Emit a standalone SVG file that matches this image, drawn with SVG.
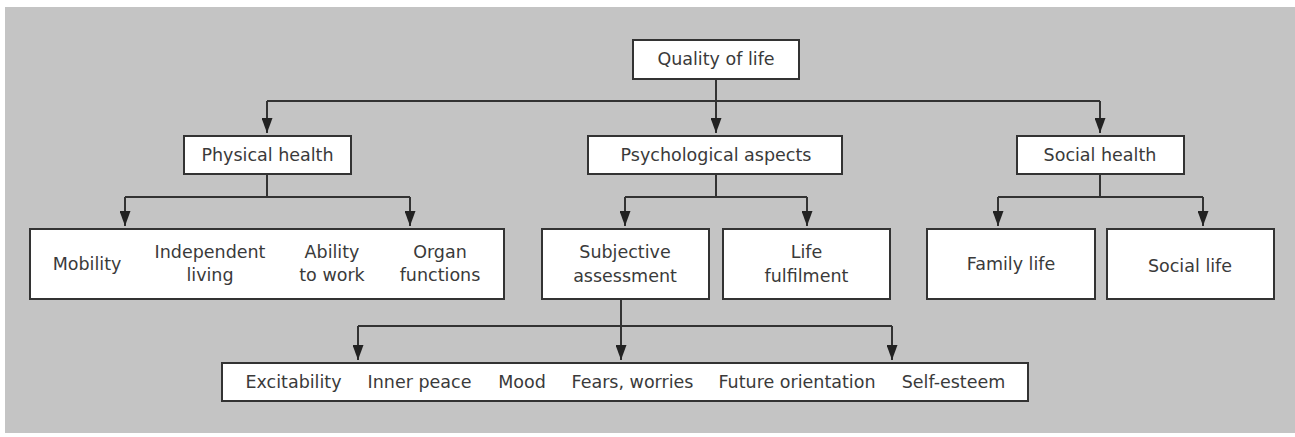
<svg xmlns="http://www.w3.org/2000/svg" width="1295" height="437" viewBox="0 0 1295 437">
<defs>
<style>
.box{fill:#fff;stroke:#333;stroke-width:2}
.t{font-family:"DejaVu Sans",sans-serif;font-size:17.5px;fill:#3a3a3a;text-anchor:middle}
.c{fill:none;stroke:#333;stroke-width:2}
</style>
<marker id="ah" viewBox="0 0 15 11" refX="15" refY="5.5" markerWidth="15" markerHeight="11" markerUnits="userSpaceOnUse" orient="auto">
<path d="M0,0 L15,5.5 L0,11 Z" fill="#222"/>
</marker>
</defs>
<rect x="0" y="0" width="1295" height="437" fill="#fff"/>
<rect x="5" y="7" width="1290" height="426" fill="#c4c4c4"/>
<g id="connectors">
<path class="c" d="M716,79 V101"/>
<path class="c" d="M267,101 H1100"/>
<path class="c" d="M267,101 V133" marker-end="url(#ah)"/>
<path class="c" d="M716,101 V133" marker-end="url(#ah)"/>
<path class="c" d="M1100,101 V133" marker-end="url(#ah)"/>
<path class="c" d="M267,174 V197 M125,197 H410"/>
<path class="c" d="M125,197 V226" marker-end="url(#ah)"/>
<path class="c" d="M410,197 V226" marker-end="url(#ah)"/>
<path class="c" d="M716,174 V197 M625,197 H807"/>
<path class="c" d="M625,197 V226" marker-end="url(#ah)"/>
<path class="c" d="M807,197 V226" marker-end="url(#ah)"/>
<path class="c" d="M1100,174 V197 M998,197 H1203"/>
<path class="c" d="M998,197 V226" marker-end="url(#ah)"/>
<path class="c" d="M1203,197 V226" marker-end="url(#ah)"/>
<path class="c" d="M621,299 V326 M358,326 H892"/>
<path class="c" d="M358,326 V360" marker-end="url(#ah)"/>
<path class="c" d="M621,326 V360" marker-end="url(#ah)"/>
<path class="c" d="M892,326 V360" marker-end="url(#ah)"/>
</g>
<g id="quality">
<rect class="box" x="633" y="40" width="166" height="39"/>
<text class="t" x="716" y="65">Quality of life</text>
</g>
<g id="physical">
<rect class="box" x="184" y="136" width="167" height="38"/>
<text class="t" x="267.5" y="161">Physical health</text>
</g>
<g id="psychological">
<rect class="box" x="588" y="136" width="254" height="38"/>
<text class="t" x="716" y="161">Psychological aspects</text>
</g>
<g id="social">
<rect class="box" x="1017" y="136" width="167" height="38"/>
<text class="t" x="1100" y="161">Social health</text>
</g>
<g id="physical-items">
<rect class="box" x="30" y="229" width="474" height="70"/>
<text class="t" x="87" y="270">Mobility</text>
<text class="t" x="210" y="258">Independent</text>
<text class="t" x="210" y="281">living</text>
<text class="t" x="332" y="258">Ability</text>
<text class="t" x="332" y="281">to work</text>
<text class="t" x="440" y="258">Organ</text>
<text class="t" x="440" y="281">functions</text>
</g>
<g id="subjective">
<rect class="box" x="542" y="229" width="167" height="70"/>
<text class="t" x="625" y="258">Subjective</text>
<text class="t" x="625" y="282">assessment</text>
</g>
<g id="life-fulfilment">
<rect class="box" x="723" y="229" width="167" height="70"/>
<text class="t" x="806.5" y="258">Life</text>
<text class="t" x="806.5" y="282">fulfilment</text>
</g>
<g id="family-life">
<rect class="box" x="927" y="229" width="168" height="70"/>
<text class="t" x="1011" y="270">Family life</text>
</g>
<g id="social-life">
<rect class="box" x="1107" y="229" width="167" height="70"/>
<text class="t" x="1190" y="272">Social life</text>
</g>
<g id="subjective-items">
<rect class="box" x="222" y="363" width="806" height="38"/>
<text class="t" x="293.5" y="388">Excitability</text>
<text class="t" x="419.5" y="388">Inner peace</text>
<text class="t" x="522" y="388">Mood</text>
<text class="t" x="632.5" y="388">Fears, worries</text>
<text class="t" x="797" y="388">Future orientation</text>
<text class="t" x="953.5" y="388">Self-esteem</text>
</g>
</svg>
